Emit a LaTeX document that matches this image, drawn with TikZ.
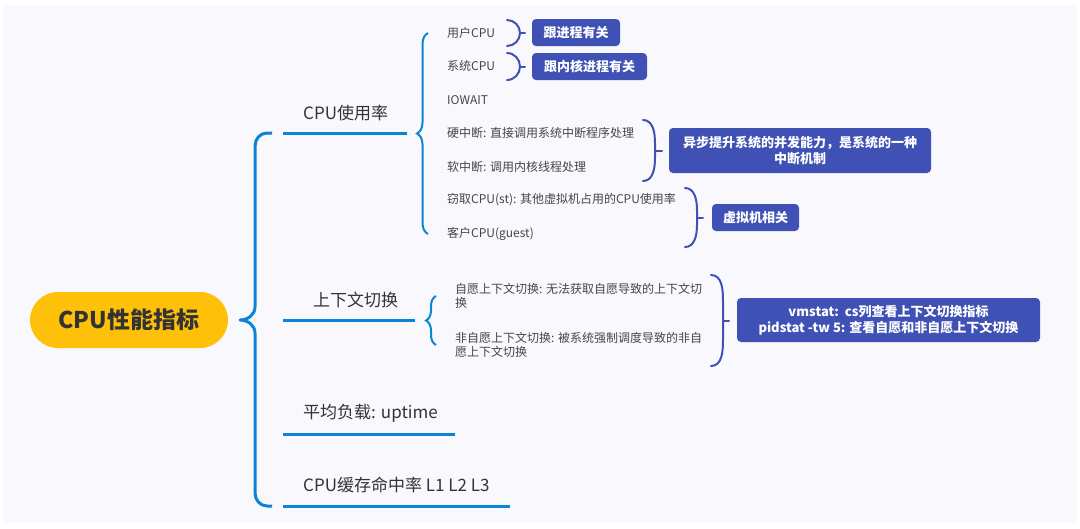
\documentclass[tikz,border=0pt]{standalone}
\usepackage{fontspec}
\setmainfont{Noto Sans CJK SC}
\usetikzlibrary{decorations.pathreplacing}
\definecolor{bgc}{RGB}{249,249,253}
\definecolor{lblue}{RGB}{10,132,212}
\definecolor{indig}{RGB}{63,81,181}
\definecolor{gold}{RGB}{255,192,10}
\definecolor{txt}{RGB}{51,51,51}
\definecolor{itxt}{RGB}{70,70,70}
\tikzset{
  rootnode/.style={fill=gold, rounded corners=28pt, minimum width=198pt, minimum height=56pt, text=txt, font=\fontsize{23}{27}\selectfont\bfseries, inner sep=0pt},
  brtext/.style={anchor=west, inner sep=0pt, text=txt, font=\fontsize{17}{20}\selectfont},
  itemtext/.style={anchor=west, inner sep=0pt, text=itxt, font=\fontsize{12}{14.5}\selectfont, align=left},
  tagbox/.style={fill=indig, rounded corners=4pt, text=white, font=\fontsize{13}{16}\selectfont\bfseries, inner sep=0pt, align=center},
  mainline/.style={draw=lblue, line width=3pt},
  mainbrace/.style={draw=lblue, line width=3pt, line join=round},
  subbrace/.style={draw=lblue, line width=2pt, decorate, decoration={brace, amplitude=#1}},
  ibrace/.style={draw=indig, line width=2pt, line cap=round},
}
\begin{document}
\begin{tikzpicture}[x=1pt,y=-1pt]
\useasboundingbox (0,0) rectangle (1080,528);
\fill[white] (0,0) rectangle (1080,528);
\fill[bgc] (3,5) rectangle (1077,523);

% root
\node[rootnode] (root) at (129,320) {CPU性能指标};

% main brace
\coordinate (mbT) at (272,133);
\coordinate (mbTip) at (240,320);
\coordinate (mbB) at (272,506);
\draw[mainbrace] (mbT) -- (267,133) to[out=180,in=90] (255,146) -- (255,307)
  to[out=-90,in=0] (mbTip) to[out=0,in=90] (255,333) -- (255,493)
  to[out=-90,in=180] (267,506) -- (mbB);

% branches
\node[brtext] (b1) at (303,113) {CPU使用率};
\node[brtext] (b2) at (313,300) {上下文切换};
\node[brtext] (b3) at (303,413) {平均负载: uptime};
\node[brtext] (b4) at (303,485) {CPU缓存命中率 L1 L2 L3};
\coordinate (l1a) at (283,133); \coordinate (l1b) at (407,133);
\coordinate (l2a) at (283,320); \coordinate (l2b) at (415,320);
\coordinate (l3a) at (283,434); \coordinate (l3b) at (455,434);
\coordinate (l4a) at (283,506); \coordinate (l4b) at (510,506);
\draw[mainline] (l1a) -- (l1b);
\draw[mainline] (l2a) -- (l2b);
\draw[mainline] (l3a) -- (l3b);
\draw[mainline] (l4a) -- (l4b);

% CPU usage sub brace
\coordinate (s1B) at (428,234);
\coordinate (s1T) at (428,33);
\draw[subbrace=11pt] (s1B) -- (s1T);
\node[itemtext] (i1) at (447,33) {用户CPU};
\node[itemtext] (i2) at (447,66) {系统CPU};
\node[itemtext] (i3) at (447,100) {IOWAIT};
\node[itemtext] (i4) at (447,133) {硬中断: 直接调用系统中断程序处理};
\node[itemtext] (i5) at (447,167) {软中断: 调用内核线程处理};
\node[itemtext] (i6) at (447,200) {窃取CPU(st): 其他虚拟机占用的CPU使用率};
\node[itemtext] (i7) at (447,234) {客户CPU(guest)};

% summary braces
\draw[ibrace] (507,20) to[out=0,in=90] (520,33) to[out=-90,in=0] (507,46);
\draw[ibrace] (520,33) -- (525,33);
\node[tagbox, minimum width=88pt, minimum height=27pt] (t1) at (576,32.5) {跟进程有关};
\draw[ibrace] (507,53) to[out=0,in=90] (520,66.5) to[out=-90,in=0] (507,80);
\draw[ibrace] (520,66.5) -- (525,66.5);
\node[tagbox, minimum width=115pt, minimum height=27pt] (t2) at (589.5,66.5) {跟内核进程有关};

\draw[ibrace] (643,120) to[out=0,in=90] (655,143) -- (655,158) to[out=-90,in=0] (643,181);
\draw[ibrace] (655,150.5) -- (662,150.5);
\node[tagbox, minimum width=262pt, minimum height=45pt] (t3) at (800,150.5) {异步提升系统的并发能力，是系统的一种\\中断机制};

\draw[ibrace] (685,188) to[out=0,in=90] (697,210) -- (697,225) to[out=-90,in=0] (685,247);
\draw[ibrace] (697,217.5) -- (703,217.5);
\node[tagbox, minimum width=87pt, minimum height=27pt] (t4) at (755.5,217.5) {虚拟机相关};

% context switch
\coordinate (s2B) at (436,345);
\coordinate (s2T) at (436,296);
\draw[subbrace=10pt] (s2B) -- (s2T);
\node[itemtext] (c1) at (455,296) {自愿上下文切换: 无法获取自愿导致的上下文切\\换};
\node[itemtext] (c2) at (455,345) {非自愿上下文切换: 被系统强制调度导致的非自\\愿上下文切换};
\draw[ibrace] (711,275) to[out=0,in=90] (723,302) -- (723,340) to[out=-90,in=0] (711,366);
\draw[ibrace] (723,321) -- (729,321);
\node[tagbox, minimum width=303pt, minimum height=44pt] (t5) at (888.5,320) {vmstat:\ \ cs列查看上下文切换指标\\pidstat -tw 5: 查看自愿和非自愿上下文切换};
\end{tikzpicture}
\end{document}
